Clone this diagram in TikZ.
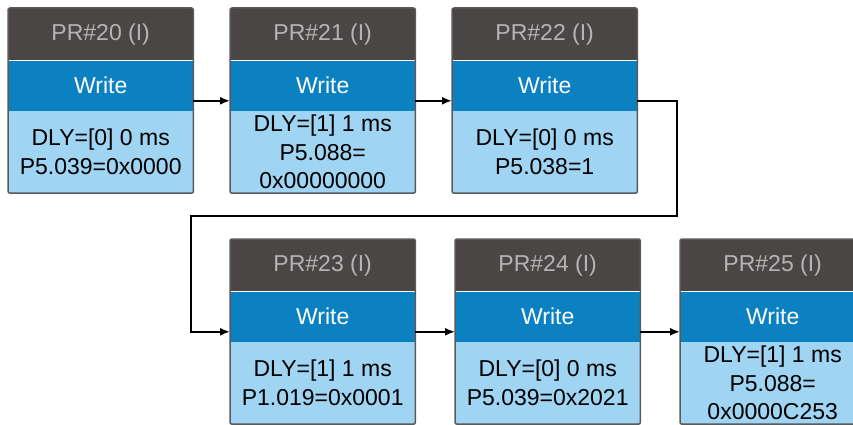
\documentclass[tikz,border=0pt]{standalone}
\usepackage{fontspec}
\setmainfont{Liberation Sans}
\usetikzlibrary{positioning, arrows.meta}
\definecolor{headgray}{HTML}{4A4645}
\definecolor{writeblue}{HTML}{0B81C2}
\definecolor{bodyblue}{HTML}{9FD4F2}
\definecolor{titlegray}{HTML}{B4B4B4}
\definecolor{edgegray}{HTML}{5A5A5A}

\tikzset{
  band/.style={minimum width=185pt, inner sep=0pt, align=center,
               font=\fontsize{23}{28.5}\selectfont},
  hdr/.style={band, fill=headgray, text=titlegray, minimum height=52pt},
  wband/.style={band, fill=writeblue, text=white, minimum height=50pt},
  body/.style={band, fill=bodyblue, text=black, minimum height=82pt},
  edge/.style={edgegray, line width=1.5pt, rounded corners=2pt},
  flow/.style={line width=1.8pt, -{Latex[length=10pt,width=8pt]}}
}

\begin{document}
\begin{tikzpicture}[x=1pt, y=-1pt]
    \useasboundingbox (0,0) rectangle (853,425);
    % PR blocks: header, write band, parameters
    \foreach \x/\y/\n/\txt in {
        8/8/20/{DLY=[0] 0 ms\\P5.039=0x0000},
        230/8/21/{DLY=[1] 1 ms\\P5.088=\\0x00000000},
        452/8/22/{DLY=[0] 0 ms\\P5.038=1},
        230/239/23/{DLY=[1] 1 ms\\P1.019=0x0001},
        455/239/24/{DLY=[0] 0 ms\\P5.039=0x2021},
        680/239/25/{DLY=[1] 1 ms\\P5.088=\\0x0000C253}} {
        \node[hdr, anchor=north west] (h\n) at (\x,\y) {PR\#\n\ (I)};
        \node[wband, below=0pt of h\n] (w\n) {Write};
        \node[body, below=0pt of w\n] (b\n) {\txt};
        \draw[edge] (h\n.north west) rectangle (b\n.south east);
    }
    % sequence
    \draw[flow] ([yshift=10pt]w20.south east) -- ([yshift=10pt]w21.south west);
    \draw[flow] ([yshift=10pt]w21.south east) -- ([yshift=10pt]w22.south west);
    \coordinate (bendR) at (677,216);
    \coordinate (bendL) at (191,216);
    \draw[flow] ([yshift=10pt]w22.south east) -| (bendR) -- (bendL)
        |- ([yshift=10pt]w23.south west);
    \draw[flow] ([yshift=10pt]w23.south east) -- ([yshift=10pt]w24.south west);
    \draw[flow] ([yshift=10pt]w24.south east) -- ([yshift=10pt]w25.south west);
\end{tikzpicture}
\end{document}
